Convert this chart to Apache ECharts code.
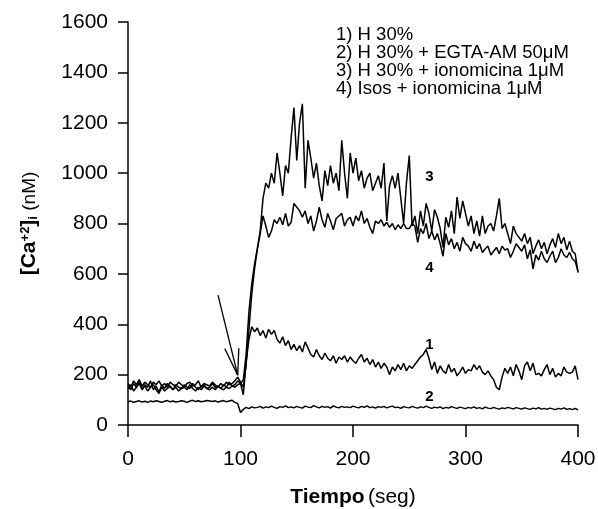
<!DOCTYPE html>
<html lang="es">
<head>
	<meta charset="utf-8">
	<title>Ca2+ intracelular</title>
	<script type="text/javascript" src="https://cdn.jsdelivr.net/npm/echarts@6/dist/echarts.min.js"></script>
	<style type="text/css">
		html, body { margin: 0; padding: 0; background: #fff; }
		#chartmain { width: 598px; height: 509px; }
	</style>
</head>
<body>
	<div id="chartmain"></div>
	<script type="text/javascript">

		// muestreo cada 2.5 s, de 0 a 400 s
		var dt = 2.5;
		var times = [];
		for (var i = 0; i <= 160; i++) { times.push(i * dt); }

		var legendLines = [
			'1) H 30%',
			'2) H 30% + EGTA-AM 50\u03bcM',
			'3) H 30% + ionomicina 1\u03bcM',
			'4) Isos + ionomicina 1\u03bcM'
		];

		// 1) H 30%
		var s1 = [
			155, 140, 165, 150, 170, 145, 160, 150, 175, 140,
			155, 130, 160, 145, 165, 150, 140, 160, 150, 145,
			160, 150, 145, 165, 150, 140, 155, 160, 145, 150,
			165, 150, 155, 145, 160, 150, 170, 155, 160, 175,
			165, 120, 250, 340, 390, 370, 385, 355, 375, 345,
			380, 360, 375, 340, 325, 350, 315, 335, 300, 320,
			295, 315, 290, 330, 305, 280, 270, 300, 275, 260,
			285, 265, 255, 275, 245, 270, 260, 275, 250, 270,
			255, 245, 265, 280, 250, 265, 240, 260, 230, 250,
			225, 245, 230, 200, 230, 215, 240, 220, 245, 215,
			235, 225, 240, 255, 270, 280, 300, 265, 220, 250,
			205, 235, 215, 205, 240, 210, 225, 195, 210, 230,
			205, 220, 215, 240, 220, 235, 210, 200, 215, 195,
			180, 150, 140, 190, 225, 205, 230, 195, 240, 215,
			180, 235, 250, 215, 245, 200, 205, 195, 220, 240,
			200, 225, 190, 205, 195, 230, 210, 205, 210, 235,
			180
		];

		// 2) H 30% + EGTA-AM 50uM
		var s2 = [
			92, 95, 90, 93, 96, 91, 94, 90, 95, 92,
			96, 93, 90, 94, 97, 92, 95, 91, 93, 96,
			94, 90, 95, 98, 93, 96, 92, 94, 97, 95,
			93, 96, 91, 94, 97, 92, 95, 98, 90, 85,
			50, 62, 70, 65, 72, 68, 70, 74, 67, 72,
			69, 75, 70, 66, 73, 70, 76, 69, 72, 68,
			74, 70, 67, 75, 71, 69, 77, 72, 68, 74,
			70, 73, 67, 76, 71, 68, 74, 70, 72, 69,
			75, 71, 68, 74, 70, 76, 69, 72, 67, 73,
			70, 74, 68, 72, 75, 69, 71, 66, 73, 70,
			68, 74, 70, 67, 72, 69, 75, 70, 66, 71,
			68, 72, 65, 70, 67, 73, 69, 66, 71, 68,
			65, 70, 67, 72, 66, 69, 64, 71, 67, 65,
			70, 66, 63, 68, 65, 70, 67, 64, 69, 66,
			63, 68, 65, 62, 67, 64, 69, 63, 66, 62,
			67, 64, 61, 66, 63, 68, 62, 65, 61, 66,
			60
		];

		// 3) H 30% + ionomicina 1uM
		var s3 = [
			145, 160, 135, 150, 165, 140, 155, 135, 150, 160,
			140, 125, 150, 135, 145, 155, 140, 150, 135, 145,
			150, 140, 160, 145, 135, 150, 140, 155, 145, 140,
			150, 140, 155, 145, 140, 150, 145, 155, 150, 160,
			165, 180, 280, 450, 560, 640, 700, 770, 900, 960,
			940, 1000, 960, 1080, 1000, 910, 1030, 1000, 1140, 1260,
			1050, 1200, 1275, 940, 1130, 1060, 980, 1040, 950, 890,
			1010, 950, 1030, 960, 1000, 930, 1130, 1000, 900, 1080,
			1000, 1060, 970, 1010, 940, 980, 1000, 930, 960, 990,
			940, 1040, 810, 950, 990, 940, 1000, 900, 800, 960,
			1070, 790, 830, 760, 850, 790, 880, 840, 770, 855,
			825, 780, 705, 825, 785, 850, 760, 905, 820, 890,
			840, 790, 830, 760, 810, 750, 830, 760, 790, 800,
			770, 830, 900, 780, 800, 760, 720, 790, 760, 745,
			730, 760, 720, 745, 680, 710, 735, 700, 725, 680,
			715, 740, 705, 760, 720, 745, 695, 730, 690, 680,
			605
		];

		// 4) Isos + ionomicina 1uM
		var s4 = [
			165, 150, 175, 160, 180, 155, 170, 160, 150, 170,
			160, 175, 155, 165, 150, 170, 160, 155, 170, 160,
			150, 165, 170, 155, 160, 175, 150, 165, 160, 155,
			170, 160, 150, 165, 155, 170, 160, 165, 175, 190,
			170, 150, 240, 380, 520, 620, 700, 760, 830, 790,
			745, 770, 815, 800, 825, 795, 840, 790, 805, 880,
			865, 850, 825, 850, 800, 830, 770, 810, 865, 815,
			785, 840, 810, 775, 820, 830, 840, 790, 815, 825,
			790, 830, 810, 850, 800, 820, 785, 760, 810, 800,
			815, 790, 805, 785, 800, 775, 795, 780, 800, 780,
			780, 800, 790, 725, 780, 760, 800, 740, 770, 735,
			760, 720, 670, 760, 715, 740, 700, 725, 690, 745,
			720, 710, 690, 730, 700, 720, 685, 700, 710, 675,
			690, 705, 680, 710, 695, 700, 665, 690, 720, 705,
			690, 715, 660, 695, 620, 675, 655, 690, 660, 645,
			670, 690, 645, 665, 700, 675, 665, 685, 660, 650,
			610
		];

		// etiquetas de curva [tiempo, nM]
		var curveTags = [
			{ name: '1', at: [268, 317] },
			{ name: '2', at: [268, 111] },
			{ name: '3', at: [268, 984] },
			{ name: '4', at: [268, 625] }
		];

		function pairs(vals) {
			return vals.map(function (v, k) { return [times[k], v]; });
		}

		var FONT = '"Liberation Sans", Arial, Helvetica, sans-serif';
		var traceStyle = { color: '#000', width: 1.5 };

		function tagPoint(tag) {
			return {
				symbol: 'circle',
				symbolSize: 0,
				silent: true,
				label: {
					show: true,
					position: 'inside',
					formatter: tag.name,
					color: '#000',
					fontFamily: FONT,
					fontWeight: 'bold',
					fontSize: 15
				},
				data: [{ coord: tag.at }]
			};
		}

		var myChart = echarts.init(document.getElementById('chartmain'), null, { renderer: 'canvas' });

		var option = {
			animation: false,
			backgroundColor: '#fff',
			grid: {
				left: 128,
				right: 20,
				top: 22,
				bottom: 84,
				containLabel: false,
				outerBoundsMode: 'none'
			},
			xAxis: {
				type: 'value',
				min: 0,
				max: 400,
				interval: 100,
				name: '{b|Tiempo} {n|(seg)}',
				nameLocation: 'middle',
				nameGap: 62,
				nameTextStyle: {
					rich: {
						b: { fontFamily: FONT, fontWeight: 'bold', fontSize: 21, color: '#000' },
						n: { fontFamily: FONT, fontSize: 21, color: '#000' }
					}
				},
				axisLine: { lineStyle: { color: '#000', width: 1.5 } },
				axisTick: { inside: false, length: 12, lineStyle: { color: '#000', width: 1.5 } },
				axisLabel: {
					color: '#000', fontFamily: FONT, fontSize: 21, margin: 24,
					formatter: function (v) { return String(v); }
				},
				splitLine: { show: false }
			},
			yAxis: {
				type: 'value',
				min: 0,
				max: 1600,
				interval: 200,
				name: '{b|[Ca}{sup|+2}{b|]}{sub|i}{n| (nM)}',
				nameLocation: 'middle',
				nameRotate: 90,
				nameGap: 88,
				nameTextStyle: {
					rich: {
						b: { fontFamily: FONT, fontWeight: 'bold', fontSize: 21, color: '#000', verticalAlign: 'middle' },
						sup: { fontFamily: FONT, fontWeight: 'bold', fontSize: 13, color: '#000', verticalAlign: 'top' },
						sub: { fontFamily: FONT, fontWeight: 'bold', fontSize: 13, color: '#000', verticalAlign: 'bottom' },
						n: { fontFamily: FONT, fontSize: 19, color: '#000', verticalAlign: 'middle' }
					}
				},
				axisLine: { show: true, lineStyle: { color: '#000', width: 1.5 } },
				axisTick: { show: true, inside: false, length: 10, lineStyle: { color: '#000', width: 1.5 } },
				axisLabel: {
					color: '#000', fontFamily: FONT, fontSize: 21, margin: 20,
					formatter: function (v) { return String(v); }
				},
				splitLine: { show: false }
			},
			graphic: [{
				type: 'text',
				left: 336,
				top: 25,
				silent: true,
				style: {
					text: legendLines.join('\n'),
					fill: '#000',
					font: '18.5px ' + FONT,
					lineHeight: 18.3
				}
			}],
			series: [
				{
					name: legendLines[0],
					type: 'line',
					data: pairs(s1),
					showSymbol: false,
					lineStyle: traceStyle,
					z: 4,
					markPoint: tagPoint(curveTags[0]),
					markLine: {
						silent: true,
						symbol: 'none',
						label: { show: false },
						lineStyle: { color: '#000', width: 1.3, type: 'solid' },
						data: [
							[{ coord: [80, 516] }, { coord: [97.5, 198] }],
							[{ coord: [86, 304] }, { coord: [97.5, 198] }],
							[{ coord: [98.5, 305] }, { coord: [97.5, 198] }]
						]
					}
				},
				{
					name: legendLines[1],
					type: 'line',
					data: pairs(s2),
					showSymbol: false,
					lineStyle: traceStyle,
					markPoint: tagPoint(curveTags[1])
				},
				{
					name: legendLines[2],
					type: 'line',
					data: pairs(s3),
					showSymbol: false,
					lineStyle: traceStyle,
					markPoint: tagPoint(curveTags[2])
				},
				{
					name: legendLines[3],
					type: 'line',
					data: pairs(s4),
					showSymbol: false,
					lineStyle: traceStyle,
					markPoint: tagPoint(curveTags[3])
				}
			]
		};

		myChart.setOption(option);

	</script>
</body>
</html>
